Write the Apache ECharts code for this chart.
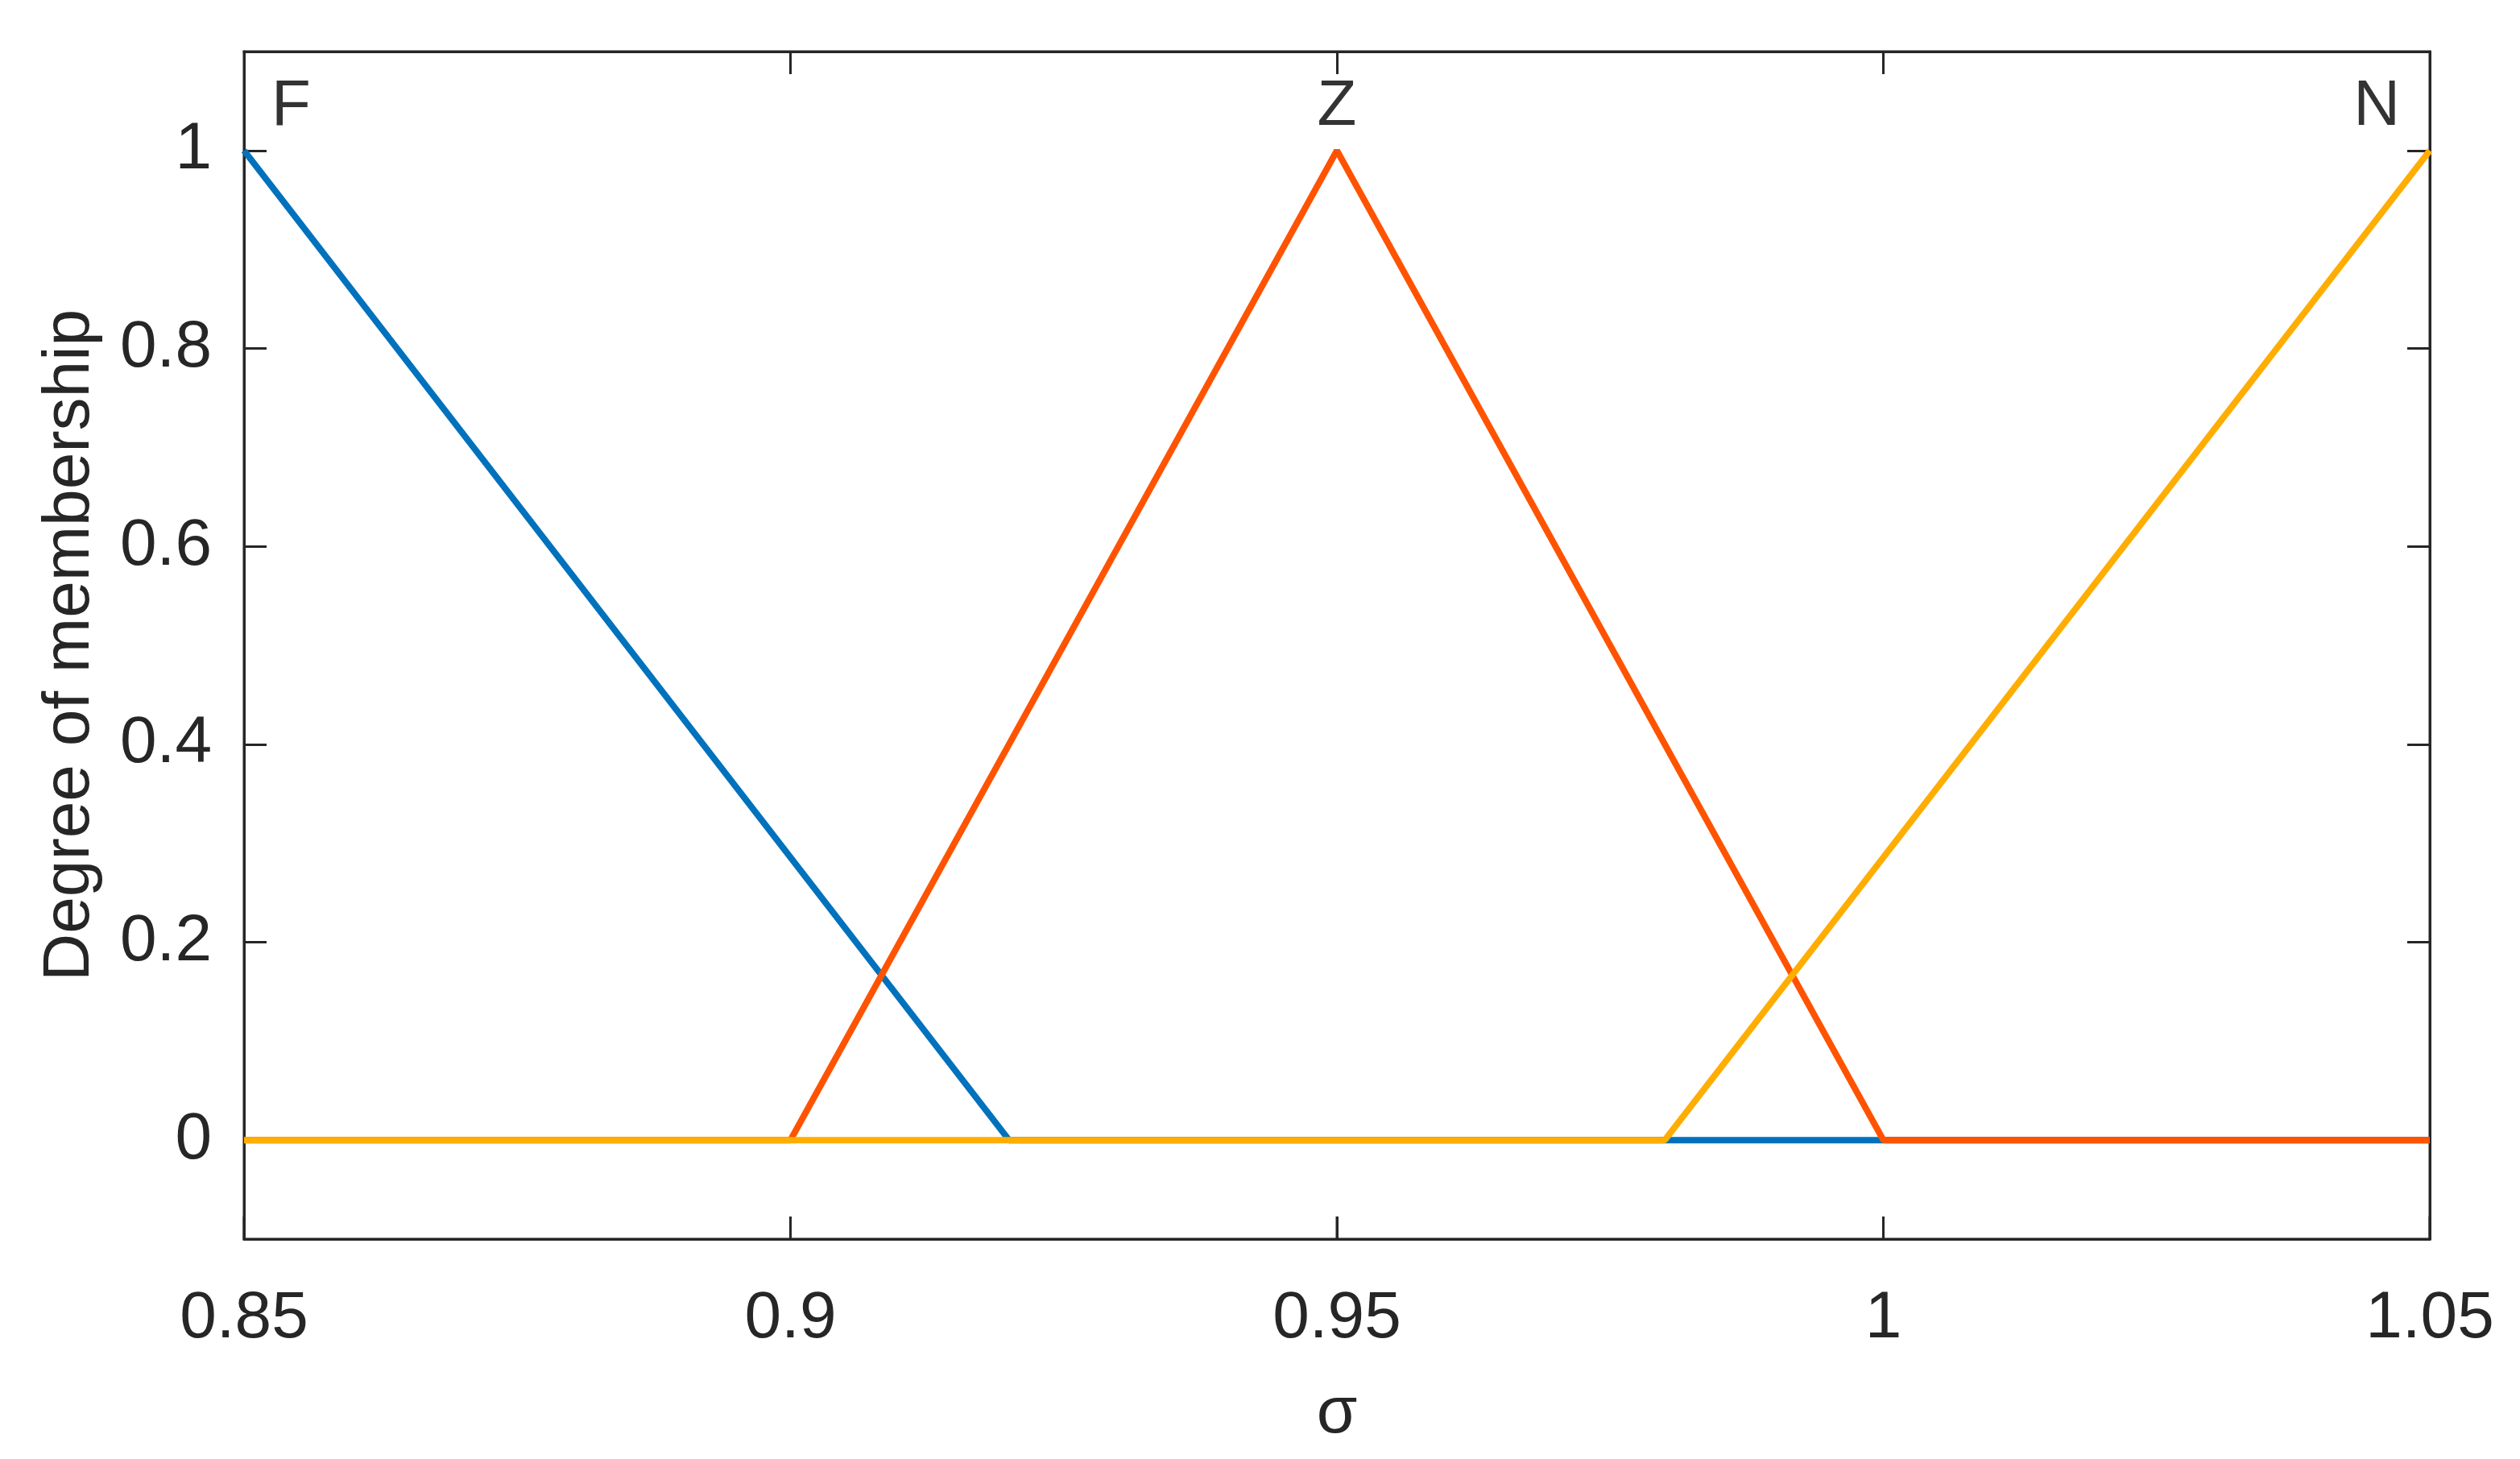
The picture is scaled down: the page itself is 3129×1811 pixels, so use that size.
<!DOCTYPE html>
<html>
<head>
<meta charset="utf-8">
<script src="https://cdn.jsdelivr.net/npm/echarts@6/dist/echarts.min.js"></script>
<style>
  html, body { margin: 0; padding: 0; background: #fff; }
  #chart { width: 3129px; height: 1811px; }
</style>
</head>
<body>
<div id="chart"></div>
<script>
// membership functions (sigma, degree)
var fX = [0.85, 0.92, 1.05];
var fY = [1, 0, 0];
var zX = [0.85, 0.9, 0.95, 1.0, 1.05];
var zY = [0, 0, 1, 0, 0];
var nX = [0.85, 0.98, 1.05];
var nY = [0, 0, 1];

var setNames = ['F', 'Z', 'N'];
var setPeaks = [0.85, 0.95, 1.05];

var xTicks = [0.85, 0.9, 0.95, 1, 1.05];
var yTicks = [0, 0.2, 0.4, 0.6, 0.8, 1];

var xMin = 0.85, xMax = 1.05;
var yMin = -0.1, yMax = 1.1;

function pairs(xs, ys) {
  return xs.map(function (x, i) { return [x, ys[i]]; });
}

var chart = echarts.init(document.getElementById('chart'));

var axisColor = '#262626';
var font = 'Liberation Sans, Arial, sans-serif';
var tickLen = 28;

function ticks(values) {
  return { show: true, inside: true, length: tickLen, customValues: values, lineStyle: { color: axisColor, width: 3 } };
}
function axisLine() {
  return { show: true, onZero: false, lineStyle: { color: axisColor, width: 3 } };
}
function line(color) {
  return { color: color, width: 8 };
}

var option = {
  animation: false,
  backgroundColor: '#fff',
  grid: {
    left: 303,
    right: 112,
    top: 64,
    bottom: 273,
    show: true,
    borderColor: axisColor,
    borderWidth: 3
  },
  xAxis: [
    {
      type: 'value',
      position: 'bottom',
      min: xMin,
      max: xMax,
      name: 'σ',
      nameLocation: 'middle',
      nameGap: 176,
      nameTextStyle: { fontSize: 82, color: axisColor, fontFamily: font },
      axisLine: axisLine(),
      axisTick: ticks(xTicks),
      axisLabel: { customValues: xTicks, fontSize: 82, color: axisColor, fontFamily: font, margin: 58 },
      splitLine: { show: false }
    },
    {
      type: 'value',
      position: 'top',
      min: xMin,
      max: xMax,
      axisLine: axisLine(),
      axisTick: ticks(xTicks),
      axisLabel: { show: false },
      splitLine: { show: false }
    }
  ],
  yAxis: [
    {
      type: 'value',
      position: 'left',
      min: yMin,
      max: yMax,
      name: 'Degree of membership',
      nameLocation: 'middle',
      nameGap: 175,
      nameTextStyle: { fontSize: 82, color: axisColor, fontFamily: font },
      axisLine: axisLine(),
      axisTick: ticks(yTicks),
      axisLabel: { customValues: yTicks, fontSize: 82, color: axisColor, fontFamily: font, margin: 40 },
      splitLine: { show: false }
    },
    {
      type: 'value',
      position: 'right',
      min: yMin,
      max: yMax,
      axisLine: axisLine(),
      axisTick: ticks(yTicks),
      axisLabel: { show: false },
      splitLine: { show: false }
    }
  ],
  series: [
    {
      name: 'F',
      type: 'line',
      symbol: 'none',
      data: pairs(fX, fY),
      lineStyle: line('#0072BD'),
      z: 2
    },
    {
      name: 'Z',
      type: 'line',
      symbol: 'none',
      data: pairs(zX, zY),
      lineStyle: line('#FF5300'),
      z: 3
    },
    {
      name: 'N',
      type: 'line',
      symbol: 'none',
      data: pairs(nX, nY),
      lineStyle: line('#FFAD00'),
      z: 4
    },
    {
      // set names above the peaks
      type: 'scatter',
      symbolSize: 0,
      silent: true,
      data: setNames.map(function (n, i) {
        var align = i === 0 ? 'left' : (i === setNames.length - 1 ? 'right' : 'center');
        var dx = i === 0 ? 34 : (i === setNames.length - 1 ? -37 : 0);
        return {
          value: [setPeaks[i], 1],
          label: {
            show: true,
            formatter: n,
            position: 'top',
            distance: 14,
            align: align,
            offset: [dx, 0],
            fontSize: 80,
            color: '#000',
            fontFamily: font
          }
        };
      }),
      z: 5
    }
  ]
};

chart.setOption(option);

// bottom ticks: placed through the axis scales (bottom axis ticks do not show otherwise)
var yBottom = chart.convertToPixel({ yAxisIndex: 0 }, yMin);
chart.setOption({
  graphic: xTicks.map(function (v) {
    var px = chart.convertToPixel({ xAxisIndex: 0 }, v);
    return {
      type: 'line',
      silent: true,
      z: 10,
      shape: { x1: px, y1: yBottom, x2: px, y2: yBottom - tickLen },
      style: { stroke: axisColor, lineWidth: 3 }
    };
  })
});
</script>
</body>
</html>
